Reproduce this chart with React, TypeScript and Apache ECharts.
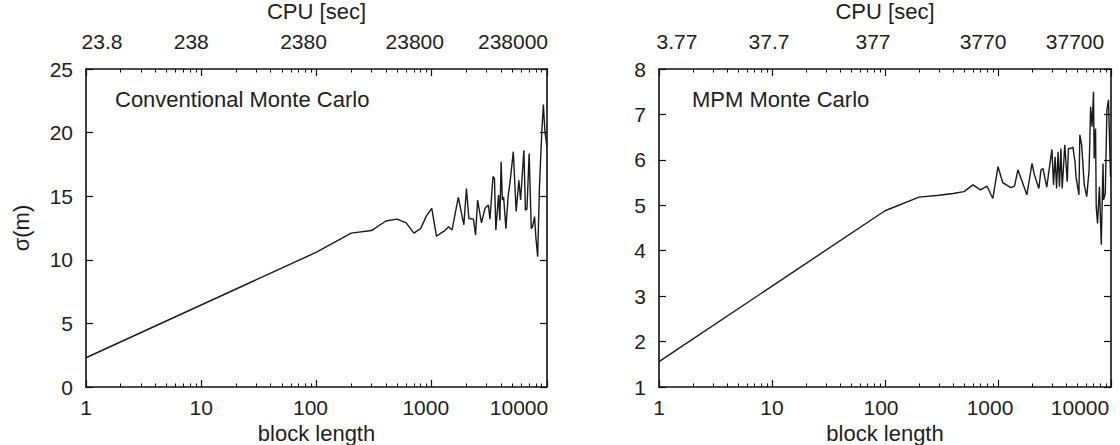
import React, { useEffect, useRef } from "react";
import * as echarts from "echarts";

// ---- data ----
const blockTicks = [1, 10, 100, 1000, 10000];
const blockMinorTicks = [
  2, 3, 4, 5, 6, 7, 8, 9,
  20, 30, 40, 50, 60, 70, 80, 90,
  200, 300, 400, 500, 600, 700, 800, 900,
  2000, 3000, 4000, 5000, 6000, 7000, 8000, 9000,
];
const cpuLabelsConventional = ["23.8", "238", "2380", "23800", "238000"];
const cpuLabelsMpm = ["3.77", "37.7", "377", "3770", "37700"];

const blockLengthConventional = [
  1, 100, 200, 300, 400, 500, 600, 700, 800, 900,
  1000, 1100, 1200, 1300, 1400, 1500, 1700, 1900, 2000, 2100,
  2300, 2400, 2500, 2700, 2900, 3100, 3200, 3400, 3500, 3600,
  3800, 3900, 4000, 4100, 4200, 4400, 4600, 4800, 5100, 5400,
  5700, 5900, 6300, 6500, 6700, 7000, 7300, 7500, 7800, 8000,
  8300, 8600, 9000, 9300, 9600, 10000,
];
const sigmaConventional = [
  2.3, 10.6, 12.1, 12.3, 13.05, 13.2, 12.9, 12.1, 12.45, 13.45,
  14.05, 11.85, 12.1, 12.3, 12.6, 12.35, 14.9, 12.75, 15.6, 13.25,
  13.2, 11.95, 14.7, 12.9, 14.05, 14.3, 13.2, 16.55, 16.4, 12.35,
  15.1, 13.1, 17.7, 14.7, 14.95, 12.45, 15.0, 16.25, 18.5, 13.8,
  16.25, 14.7, 18.6, 13.9, 14.0, 18.35, 12.45, 12.6, 13.4, 11.8,
  10.25, 15.75, 19.95, 22.2, 20.05, 18.9,
];

const blockLengthMpm = [
  1, 100, 200, 300, 400, 500, 600, 700, 800, 900,
  1000, 1100, 1300, 1400, 1500, 1600, 1800, 2000, 2100, 2300,
  2400, 2500, 2700, 3000, 3100, 3200, 3300, 3400, 3500, 3600,
  3700, 3900, 4100, 4200, 4400, 4600, 4800, 4900, 5200, 5300,
  5500, 5800, 6100, 6400, 6600, 6800, 7000, 7100, 7300, 7400,
  7600, 7900, 8200, 8500, 8600, 8900, 9200, 9500, 9900,
];
const sigmaMpm = [
  1.56, 4.88, 5.18, 5.22, 5.26, 5.3, 5.45, 5.34, 5.42, 5.15,
  5.85, 5.5, 5.39, 5.42, 5.78, 5.59, 5.23, 5.92, 5.67, 5.37,
  5.78, 5.81, 5.4, 6.23, 5.45, 6.07, 5.37, 6.18, 5.41, 6.25,
  5.37, 6.33, 5.52, 6.25, 6.25, 6.28, 5.96, 5.63, 5.23, 6.55,
  6.33, 5.45, 5.19, 5.78, 7.17, 6.73, 7.5, 6.03, 6.69, 4.97,
  4.6, 5.41, 4.13, 5.92, 5.12, 5.26, 7.1, 7.32, 5.63,
];

const sigmaRangeConventional = [0, 25, 5];
const sigmaRangeMpm = [1, 8, 1];

// ---- style ----
const FONT = "'Liberation Sans', Arial, Helvetica, sans-serif";
const TXT = "#1e1e1e";
const AX = "#111";
const TICK_FS = 21;
const NAME_FS = 22;

function richShifts(shifts: number[]) {
  const rich: Record<string, any> = {};
  shifts.forEach((s, i) => {
    rich["s" + i] = {
      fontSize: TICK_FS,
      fontFamily: FONT,
      color: TXT,
      padding: s >= 0 ? [0, 0, 0, 2 * s] : [0, -2 * s, 0, 0],
    };
  });
  return rich;
}

function tickIndex(v: number) {
  return blockTicks.indexOf(Math.pow(10, Math.round(Math.log10(v))));
}

function xAxesFor(
  gridIndex: number,
  cpuLabels: string[],
  bottomShifts: number[],
  topShifts: number[]
) {
  const common = {
    type: "log",
    logBase: 10,
    gridIndex,
    min: 1,
    max: 10000,
    splitLine: { show: false },
    minorTick: { show: false },
    minorSplitLine: { show: false },
  };
  const majorTick = {
    show: true,
    inside: true,
    length: 7,
    lineStyle: { color: AX, width: 1.2 },
  };
  const minorTick = {
    show: true,
    inside: true,
    length: 3.5,
    customValues: blockMinorTicks,
    lineStyle: { color: AX, width: 1 },
  };
  return [
    {
      ...common,
      position: "bottom",
      name: "block length",
      nameLocation: "middle",
      nameGap: 35,
      nameTextStyle: { fontSize: NAME_FS, fontFamily: FONT, color: TXT },
      axisLine: { show: true, lineStyle: { color: AX, width: 1.6 } },
      axisTick: majorTick,
      axisLabel: {
        show: true,
        margin: 10,
        fontSize: TICK_FS,
        fontFamily: FONT,
        color: TXT,
        formatter: (v: number) => {
          const i = tickIndex(v);
          return "{s" + i + "|" + blockTicks[i] + "}";
        },
        rich: richShifts(bottomShifts),
      },
    },
    {
      ...common,
      position: "bottom",
      axisLine: { show: false },
      axisTick: minorTick,
      axisLabel: { show: false },
    },
    {
      ...common,
      position: "top",
      name: "CPU [sec]",
      nameLocation: "middle",
      nameGap: 47,
      nameTextStyle: { fontSize: NAME_FS, fontFamily: FONT, color: TXT },
      axisLine: { show: true, lineStyle: { color: AX, width: 1.6 } },
      axisTick: majorTick,
      axisLabel: {
        show: true,
        margin: 17,
        fontSize: TICK_FS,
        fontFamily: FONT,
        color: TXT,
        formatter: (v: number) => {
          const i = tickIndex(v);
          return "{s" + i + "|" + cpuLabels[i] + "}";
        },
        rich: richShifts(topShifts),
      },
    },
    {
      ...common,
      position: "top",
      axisLine: { show: false },
      axisTick: minorTick,
      axisLabel: { show: false },
    },
  ];
}

function yAxesFor(gridIndex: number, range: number[], name: string) {
  const tick = {
    show: true,
    inside: true,
    length: 7,
    lineStyle: { color: AX, width: 1.2 },
  };
  return [
    {
      type: "value",
      gridIndex,
      position: "left",
      min: range[0],
      max: range[1],
      interval: range[2],
      name,
      nameLocation: "middle",
      nameGap: 54,
      nameTextStyle: { fontSize: NAME_FS, fontFamily: FONT, color: TXT },
      axisLine: { show: true, lineStyle: { color: AX, width: 1.6 } },
      axisTick: tick,
      axisLabel: {
        show: true,
        margin: 13,
        fontSize: TICK_FS,
        fontFamily: FONT,
        color: TXT,
      },
      splitLine: { show: false },
    },
    {
      type: "value",
      gridIndex,
      position: "right",
      min: range[0],
      max: range[1],
      interval: range[2],
      axisLine: { show: true, lineStyle: { color: AX, width: 1.6 } },
      axisTick: tick,
      axisLabel: { show: false },
      splitLine: { show: false },
    },
  ];
}

export default function App() {
  const ref = useRef<HTMLDivElement>(null);
  useEffect(() => {
    if (!ref.current) return;
    const chart = echarts.init(ref.current, undefined, { renderer: "svg" });
    const convData = blockLengthConventional.map((x, i) => [x, sigmaConventional[i]]);
    const mpmData = blockLengthMpm.map((x, i) => [x, sigmaMpm[i]]);
    const option: any = {
      animation: false,
      backgroundColor: "#ffffff",
      textStyle: { fontFamily: FONT },
      grid: [
        { left: 86, top: 69, width: 461, height: 318, containLabel: false, outerBoundsMode: "none" },
        { left: 659, top: 69, width: 452, height: 318, containLabel: false, outerBoundsMode: "none" },
      ],
      xAxis: [
        ...xAxesFor(0, cpuLabelsConventional, [0, 0, -6, -6, -28], [16, -10, -13, -17, -34]),
        ...xAxesFor(1, cpuLabelsMpm, [0, 0, -4, -8, -31], [18, -3, -12, -15, -36]),
      ],
      yAxis: [
        ...yAxesFor(0, sigmaRangeConventional, "σ(m)"),
        ...yAxesFor(1, sigmaRangeMpm, ""),
      ],
      series: [
        {
          type: "line",
          xAxisIndex: 0,
          yAxisIndex: 0,
          data: convData,
          showSymbol: false,
          symbol: "none",
          lineStyle: { color: "#1a1a1a", width: 1.4 },
          clip: true,
        },
        {
          type: "line",
          xAxisIndex: 4,
          yAxisIndex: 2,
          data: mpmData,
          showSymbol: false,
          symbol: "none",
          lineStyle: { color: "#1a1a1a", width: 1.4 },
          clip: true,
        },
      ],
      graphic: [
        {
          type: "text",
          x: 115,
          y: 99,
          style: {
            text: "Conventional Monte Carlo",
            fontSize: NAME_FS,
            fontFamily: FONT,
            fill: TXT,
            verticalAlign: "middle",
          },
        },
        {
          type: "text",
          x: 692,
          y: 99,
          style: {
            text: "MPM Monte Carlo",
            fontSize: NAME_FS,
            fontFamily: FONT,
            fill: TXT,
            verticalAlign: "middle",
          },
        },
      ],
    };
    chart.setOption(option);
    return () => chart.dispose();
  }, []);
  return (
    <div
      ref={ref}
      style={{ position: "fixed", left: 0, top: 0, width: 1120, height: 445, background: "#fff" }}
    />
  );
}
